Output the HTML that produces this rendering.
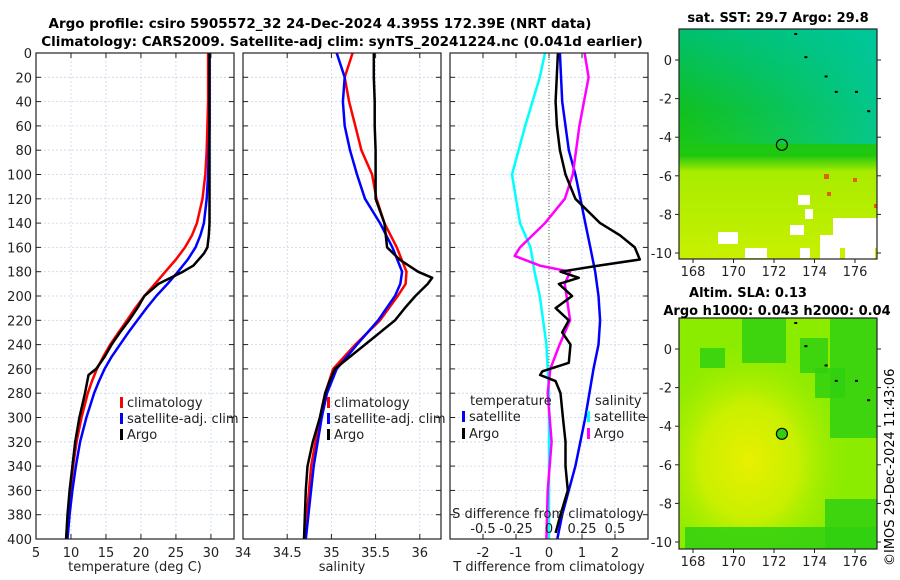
<!DOCTYPE html>
<html><head><meta charset="utf-8"><style>
body{margin:0;background:#fff}
svg{display:block;font-family:"DejaVu Sans","Liberation Sans",sans-serif}
</style></head><body>
<svg id="s" width="900" height="580" viewBox="0 0 900 580">
<defs>
<linearGradient id="sstg" x1="0" y1="0" x2="0" y2="1">
<stop offset="0" stop-color="#00c070"/><stop offset="0.35" stop-color="#10c020"/><stop offset="0.55" stop-color="#20c810"/><stop offset="0.62" stop-color="#a8ec00"/><stop offset="1" stop-color="#c8f000"/>
</linearGradient>
<linearGradient id="sstr" x1="0" y1="0" x2="1" y2="0">
<stop offset="0" stop-color="#00c8a0" stop-opacity="0"/><stop offset="1" stop-color="#00c8a8" stop-opacity="0.8"/>
</linearGradient>
<radialGradient id="slab" cx="0.35" cy="0.62" r="0.5">
<stop offset="0" stop-color="#e8f000"/><stop offset="0.5" stop-color="#c8f000"/><stop offset="1" stop-color="#a0ec00" stop-opacity="0"/>
</radialGradient>
</defs>
<text x="320" y="28" text-anchor="middle" font-size="13.5" font-weight="bold">Argo profile: csiro 5905572_32 24-Dec-2024 4.395S 172.39E (NRT data)</text>
<text x="342" y="46" text-anchor="middle" font-size="13.5" font-weight="bold">Climatology: CARS2009. Satellite-adj clim: synTS_20241224.nc (0.041d earlier)</text>
<g id="g"></g>
<text x="778" y="22" text-anchor="middle" font-size="13" font-weight="bold">sat. SST: 29.7 Argo: 29.8</text>
<text x="748" y="297" text-anchor="middle" font-size="13" font-weight="bold">Altim. SLA: 0.13</text>
<text x="777" y="315" text-anchor="middle" font-size="13" font-weight="bold">Argo h1000: 0.043 h2000: 0.04</text>
<text transform="translate(894,566) rotate(-90)" font-size="13">©IMOS 29-Dec-2024 11:43:06</text>
</svg>
<script>
const depths=[0,20,40,60,80,100,120,140,150,160,170,180,190,200,210,220,230,240,250,260,270,280,300,320,340,360,380,400];
const tempClim=[29.6,29.6,29.6,29.5,29.4,29.2,28.8,28.0,27.3,26.3,25.0,23.5,22.0,20.5,19.2,18.0,16.8,15.6,14.6,13.7,13.0,12.4,11.5,10.8,10.3,9.9,9.6,9.3];
const tempSat=[29.8,29.8,29.8,29.8,29.7,29.6,29.4,29.0,28.5,27.8,26.7,25.3,23.8,22.2,20.8,19.5,18.2,17.0,15.8,14.8,14.0,13.3,12.2,11.3,10.7,10.2,9.8,9.5];
const argoDepths=[0,20,40,60,80,100,120,140,150,160,165,175,180,190,200,210,220,230,240,250,260,265,280,300,320,340,360,380,400];
const tempArgo=[29.8,29.8,29.8,29.8,29.8,29.8,29.8,29.8,29.7,29.5,29.0,27.5,26.0,22.5,20.5,19.5,18.3,17.0,15.8,14.8,13.6,12.5,12.0,11.2,10.6,10.2,9.8,9.5,9.3];
const salDepths=[0,20,40,60,80,100,120,140,160,180,190,200,220,240,260,280,300,340,400];
const salClim=[35.24,35.15,35.2,35.27,35.34,35.46,35.51,35.6,35.74,35.85,35.84,35.75,35.55,35.27,35.02,34.93,34.87,34.77,34.7];
const salSat=[35.06,35.15,35.13,35.15,35.21,35.29,35.38,35.55,35.69,35.8,35.78,35.72,35.53,35.29,35.06,34.95,34.89,34.8,34.71];
const salArgoDepths=[0,20,40,60,80,100,120,140,160,170,180,185,190,200,210,220,240,260,270,280,300,320,340,360,380,400];
const salArgo=[35.48,35.48,35.49,35.49,35.5,35.5,35.5,35.6,35.63,35.77,35.98,36.14,36.09,35.95,35.83,35.72,35.38,35.04,34.98,34.93,34.87,34.79,34.73,34.71,34.7,34.69];
const dDepths=[0,40,80,100,120,140,160,180,200,220,240,260,300,340,380,400];
const dTSat=[0.33,0.4,0.6,0.8,0.95,1.1,1.25,1.4,1.5,1.55,1.5,1.35,1.1,0.8,0.4,0.25];
const dArgoDepths=[0,40,60,80,100,120,140,150,160,170,175,180,185,190,200,210,220,230,240,255,262,265,270,280,300,320,340,360,380,395];
const dTArgo=[0.27,0.2,0.24,0.33,0.5,0.8,1.55,2.15,2.6,2.75,1.5,0.35,0.9,0.3,0.7,0.2,0.6,0.4,0.65,0.6,-0.2,-0.27,0.2,0.35,0.42,0.5,0.5,0.57,0.35,0.2];
const dSDepths=[0,20,60,100,140,160,180,200,240,280,400];
const dSSat=[-0.03,-0.07,-0.18,-0.28,-0.22,-0.14,-0.11,-0.07,-0.02,0,0];
const dSArgoDepths=[0,20,60,100,120,140,160,167,175,180,190,220,240,260,280,320,360,400];
const dSArgo=[0.27,0.3,0.23,0.18,0.12,-0.03,-0.22,-0.26,-0.07,0.16,0.12,0.16,0.08,0.01,-0.01,0.02,-0.01,-0.02];
const tempTicks=[5,10,15,20,25,30];
const salTicks=[34,34.5,35,35.5,36];
const dTTicks=[-2,-1,0,1,2];
const dSTicks=[-0.5,-0.25,0,0.25,0.5];
const depthTicks=[0,20,40,60,80,100,120,140,160,180,200,220,240,260,280,300,320,340,360,380,400];
const lonTicks=[168,170,172,174,176];
const latTicks=[0,-2,-4,-6,-8,-10];
const argoLon=172.39, argoLat=-4.395;

const NS='http://www.w3.org/2000/svg';
const G=document.getElementById('g');
function mk(t,a,p){const e=document.createElementNS(NS,t);for(const k in a)e.setAttribute(k,a[k]);(p||G).appendChild(e);return e;}
const Y0=53,Y1=539;
const yD=d=>Y0+d/400*(Y1-Y0);
function panel(x0,x1,xmin,xmax,ticks,name,fmt,showY){
  const xs=v=>x0+(v-xmin)/(xmax-xmin)*(x1-x0);
  const pg=mk('g',{});
  
  
  depthTicks.forEach(d=>{const l=mk('line',{x1:x0,x2:x1,y1:yD(d),y2:yD(d),stroke:'#c8d4ee','stroke-width':0.8,'stroke-dasharray':'2,2'},pg);
    
    mk('line',{x1:x0,x2:x0+5,y1:yD(d),y2:yD(d),stroke:'#222'},pg);mk('line',{x1:x1-5,x2:x1,y1:yD(d),y2:yD(d),stroke:'#222'},pg);
    if(showY){const t=mk('text',{x:x0-4,y:yD(d)+5,'text-anchor':'end','font-size':13,fill:'#222'},pg);t.textContent=d;
      }});
  ticks.forEach(v=>{const x=xs(v);mk('line',{x1:x,x2:x,y1:Y0,y2:Y1,stroke:'#c8d4ee','stroke-width':0.8,'stroke-dasharray':'2,2'},pg);
    mk('line',{x1:x,x2:x,y1:Y1,y2:Y1-5,stroke:'#222'},pg);mk('line',{x1:x,x2:x,y1:Y0,y2:Y0+5,stroke:'#222'},pg);
    if(fmt){const t=mk('text',{x:x,y:Y1+18,'text-anchor':'middle','font-size':13,fill:'#222'},pg);t.textContent=fmt(v);
      }});
  return {xs,pg,x0,x1};
}
function line(p,xs,ds,vals,col,w,name){
  const pts=vals.map((v,i)=>xs(v).toFixed(1)+','+yD(ds[i]).toFixed(1)).join(' ');
  const e=mk('polyline',{points:pts,fill:'none',stroke:col,'stroke-width':w,'stroke-linejoin':'round'},p.pg);
  
}
function frame(p){mk('rect',{x:p.x0,y:Y0,width:p.x1-p.x0,height:Y1-Y0,fill:'none',stroke:'#222','stroke-width':1.2},p.pg);}
function txt(x,y,s,extra,name){const t=mk('text',Object.assign({x:x,y:y,'font-size':13,fill:'#222'},extra||{}));t.textContent=s;
  return t;}
function legend(x,y,col,label,name){mk('rect',{x:x,y:y-10,width:3,height:11,fill:col});txt(x+7,y,label,{},name);}

const p1=panel(36,234,5,33.3,tempTicks,'temperature-panel',v=>v,true);
line(p1,p1.xs,depths,tempClim,'#f00',2.5,'temp-climatology-line');
line(p1,p1.xs,depths,tempSat,'#00f',2.5,'temp-satellite-line');
line(p1,p1.xs,argoDepths,tempArgo,'#000',2.5,'temp-argo-line');
frame(p1);
txt(135,571,'temperature (deg C)',{'text-anchor':'middle'},'temperature-axis-title');
legend(120,407,'#f00','climatology','legend-climatology');
legend(120,423,'#00f','satellite-adj. clim','legend-satellite');
legend(120,439,'#000','Argo','legend-argo');
const p2=panel(243,441,34,36.24,salTicks,'salinity-panel',v=>v,false);
line(p2,p2.xs,salDepths,salClim,'#f00',2.5,'sal-climatology-line');
line(p2,p2.xs,salDepths,salSat,'#00f',2.5,'sal-satellite-line');
line(p2,p2.xs,salArgoDepths,salArgo,'#000',2.5,'sal-argo-line');
frame(p2);
txt(342,571,'salinity',{'text-anchor':'middle'},'salinity-axis-title');
legend(327,407,'#f00','climatology','legend-sal-climatology');
legend(327,423,'#00f','satellite-adj. clim','legend-sal-satellite');
legend(327,439,'#000','Argo','legend-sal-argo');
const p3=panel(450,648,-3,3,dTTicks,'difference-panel',v=>v,false);
const sx=v=>549+v*132;
dSTicks.forEach(v=>{txt(sx(v),533,String(v),{'text-anchor':'middle'},'s-tick-label');});
mk('line',{x1:549,x2:549,y1:Y0,y2:Y1,stroke:'#556b2f','stroke-width':1,'stroke-dasharray':'1,2'},p3.pg);
line(p3,p3.xs,dDepths,dTSat,'#00f',2.5,'dT-satellite-line');
line(p3,sx,dSDepths,dSSat,'#0ff',2.5,'dS-satellite-line');
line(p3,sx,dSArgoDepths,dSArgo,'#f0f',2.5,'dS-argo-line');
line(p3,p3.xs,dArgoDepths,dTArgo,'#000',2.5,'dT-argo-line');
frame(p3);
txt(548,518,'S difference from climatology',{'text-anchor':'middle'},'s-diff-axis-title');
txt(549,571,'T difference from climatology',{'text-anchor':'middle'},'t-diff-axis-title');
txt(470,405,'temperature',{},'legend-temperature-header');
txt(595,405,'salinity',{},'legend-salinity-header');
legend(462,421,'#00f','satellite','legend-dT-satellite');
legend(462,438,'#000','Argo','legend-dT-argo');
legend(587,421,'#0ff','satellite','legend-dS-satellite');
legend(587,438,'#f0f','Argo','legend-dS-argo');

function map(y0,y1,zeroY,name,kind){
  const x0=679,x1=877;
  const lx=v=>693+(v-168)*20.25;
  const ly=v=>zeroY-v*19.3;
  const mg=mk('g',{});
  
  if(kind==='sst'){
    mk('rect',{x:x0,y:y0,width:x1-x0,height:y1-y0,fill:'url(#sstg)'},mg);
    mk('rect',{x:x0,y:y0,width:x1-x0,height:(y1-y0)*0.5,fill:'url(#sstr)'},mg);
    [[798,195,12,10],[805,209,8,10],[790,225,14,10],[833,218,44,30],[820,235,20,24],[800,248,10,10],[718,232,20,12],[745,248,22,10],[845,248,30,11]].forEach(r=>mk('rect',{x:r[0],y:r[1],width:r[2],height:r[3],fill:'#fff'},mg));
    [[824,174,5,5],[853,178,4,4],[827,192,4,4],[874,204,3,4]].forEach(r=>mk('rect',{x:r[0],y:r[1],width:r[2],height:r[3],fill:'#e06000'},mg));
  } else {
    mk('rect',{x:x0,y:y0,width:x1-x0,height:y1-y0,fill:'#8cec00'},mg);
    mk('rect',{x:x0,y:y0,width:x1-x0,height:y1-y0,fill:'url(#slab)'},mg);
    [[742,y0,44,45],[830,y0,47,120],[700,y0+30,25,20],[800,y0+20,28,35],[825,y1-50,52,50],[685,y1-22,192,22],[815,y0+50,30,30]].forEach(r=>mk('rect',{x:r[0],y:r[1],width:r[2],height:r[3],fill:'#30d010',opacity:0.85},mg));
  }
  mk('rect',{x:x0,y:y0,width:x1-x0,height:y1-y0,fill:'none',stroke:'#222','stroke-width':1.2},mg);
  lonTicks.forEach(v=>{mk('line',{x1:lx(v),x2:lx(v),y1:y1,y2:y1+4,stroke:'#222'},mg);
    txt(lx(v),y1+17,v,{'text-anchor':'middle'},'lon-tick-label');});
  latTicks.forEach(v=>{mk('line',{x1:x0-4,x2:x0,y1:ly(v),y2:ly(v),stroke:'#222'},mg);mk('line',{x1:x1,x2:x1+4,y1:ly(v),y2:ly(v),stroke:'#222'},mg);
    txt(x0-7,ly(v)+5,v,{'text-anchor':'end'},'lat-tick-label');});
  [[173,1.4],[173.5,0.2],[174.5,-0.8],[175,-1.6],[176,-1.6],[176.6,-2.6]].forEach(c=>mk('rect',{x:lx(c[0]),y:ly(c[1]),width:3,height:2,fill:'#000'},mg));
  const c=mk('circle',{cx:lx(argoLon),cy:ly(argoLat),r:5.5,fill:kind==='sst'?'none':'#30d010',stroke:'#000','stroke-width':1.2},mg);
  
}
map(29,259,60,'sst-map','sst');
map(318,549,349,'sla-map','sla');
</script>
</body></html>
